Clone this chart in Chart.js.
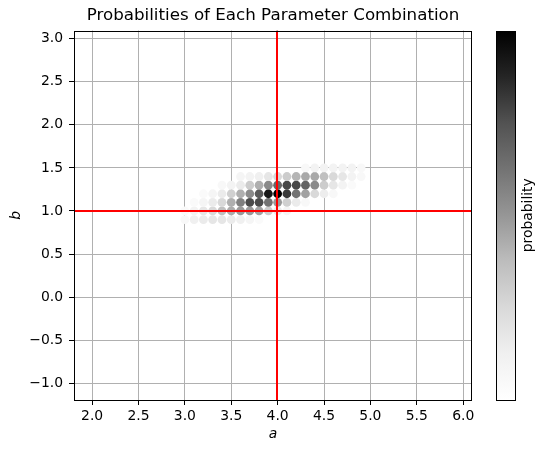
<!DOCTYPE html>
<html>
<head>
<meta charset="utf-8">
<script src="https://cdn.jsdelivr.net/npm/chart.js@4"></script>
<style>
  html, body { margin: 0; padding: 0; background: #fff; }
</style>
</head>
<body>
<canvas id="chart" width="543" height="453"></canvas>
<script>
// parameter grid (only the region with visible probability)
const aValues = [3.0, 3.1, 3.2, 3.3, 3.4, 3.5, 3.6, 3.7, 3.8, 3.9,
                 4.0, 4.1, 4.2, 4.3, 4.4, 4.5, 4.6, 4.7, 4.8, 4.9];
const bValues = [0.9, 1.0, 1.1, 1.2, 1.3, 1.4, 1.5];

// relative probability per b row, one entry per a value
const probB09 = [0.06, 0.125, 0.15, 0.18, 0.18, 0.15, 0.125, 0.08, 0.04, 0, 0, 0, 0, 0, 0, 0, 0, 0, 0, 0];
const probB10 = [0.04, 0.10, 0.18, 0.25, 0.36, 0.43, 0.49, 0.49, 0.46, 0.31, 0.15, 0.08, 0, 0, 0, 0, 0, 0, 0, 0];
const probB11 = [0, 0.04, 0.08, 0.15, 0.25, 0.42, 0.58, 0.77, 0.77, 0.625, 0.49, 0.29, 0.15, 0.06, 0, 0, 0, 0, 0, 0];
const probB12 = [0, 0, 0.04, 0.08, 0.15, 0.29, 0.42, 0.54, 0.72, 0.92, 1.0, 0.82, 0.625, 0.46, 0.25, 0.14, 0.06, 0, 0, 0];
const probB13 = [0, 0, 0, 0, 0.06, 0.10, 0.15, 0.31, 0.42, 0.54, 0.67, 0.78, 0.78, 0.68, 0.54, 0.31, 0.18, 0.10, 0.04, 0];
const probB14 = [0, 0, 0, 0, 0, 0, 0.08, 0.10, 0.125, 0.18, 0.25, 0.31, 0.40, 0.44, 0.44, 0.36, 0.25, 0.18, 0.10, 0.06];
const probB15 = [0, 0, 0, 0, 0, 0, 0, 0, 0, 0, 0, 0, 0, 0.06, 0.10, 0.10, 0.10, 0.10, 0.10, 0.06];
const probRows = [probB09, probB10, probB11, probB12, probB13, probB14, probB15];

const trueA = 4.0;
const trueB = 1.0;

const xTicks = [2.0, 2.5, 3.0, 3.5, 4.0, 4.5, 5.0, 5.5, 6.0];
const yTicks = [-1.0, -0.5, 0.0, 0.5, 1.0, 1.5, 2.0, 2.5, 3.0];
const xLimits = [1.805, 6.095];
const yLimits = [-1.195, 3.095];

// matplotlib "Greys" colormap
const greys = [255, 240, 217, 189, 150, 115, 82, 37, 0];
function greyColor(v) {
  const t = Math.max(0, Math.min(1, v)) * 8;
  const i = Math.min(7, Math.floor(t));
  const g = Math.round(greys[i] + (greys[i + 1] - greys[i]) * (t - i));
  return `rgb(${g},${g},${g})`;
}

const points = [];
const colors = [];
probRows.forEach((row, r) => {
  row.forEach((p, c) => {
    if (p <= 0) return;
    points.push({ x: aValues[c], y: bValues[r] });
    colors.push(greyColor(p));
  });
});

const FONT = 'DejaVu Sans';
const fmt = v => (v < 0 ? '\u2212' : '') + Math.abs(v).toFixed(1);

const overlay = {
  id: 'overlay',
  afterDraw(chart) {
    const { ctx, chartArea: ca, scales: { x, y } } = chart;

    // true parameter lines
    ctx.save();
    ctx.beginPath();
    ctx.rect(ca.left, ca.top, ca.right - ca.left, ca.bottom - ca.top);
    ctx.clip();
    ctx.strokeStyle = '#ff0000';
    ctx.lineWidth = 2;
    const px = Math.floor(x.getPixelForValue(trueA));
    const py = Math.round(y.getPixelForValue(trueB));
    ctx.beginPath();
    ctx.moveTo(px, ca.top);
    ctx.lineTo(px, ca.bottom);
    ctx.moveTo(ca.left, py);
    ctx.lineTo(ca.right, py);
    ctx.stroke();
    ctx.restore();

    // axes frame
    ctx.save();
    ctx.strokeStyle = '#000';
    ctx.lineWidth = 1;
    const l = Math.round(ca.left) + 0.5, t = Math.round(ca.top) + 0.5;
    const r = Math.round(ca.right) - 0.5, b = Math.round(ca.bottom) + 0.5;
    ctx.strokeRect(l, t, r - l, b - t);

    // colorbar
    const cbL = Math.round(ca.right) + 24, cbW = 19;
    const grad = ctx.createLinearGradient(0, ca.bottom, 0, ca.top);
    greys.forEach((g, i) => grad.addColorStop(i / 8, `rgb(${g},${g},${g})`));
    ctx.fillStyle = grad;
    ctx.fillRect(cbL, t, cbW, b - t);
    ctx.strokeRect(cbL + 0.5, t, cbW, b - t);

    ctx.translate(cbL + cbW + 13, (ca.top + ca.bottom) / 2);
    ctx.rotate(-Math.PI / 2);
    ctx.fillStyle = '#000';
    ctx.font = `13.9px "${FONT}"`;
    ctx.textAlign = 'center';
    ctx.textBaseline = 'middle';
    ctx.fillText('probability', 0, 0);
    ctx.restore();
  }
};

const axisCommon = {
  type: 'linear',
  z: 1,
  border: { display: false },
  grid: { color: '#b0b0b0', lineWidth: 1, tickColor: '#000', tickLength: 5, tickWidth: 1 },
  ticks: { font: { family: FONT, size: 13.9 }, color: '#000', callback: fmt, autoSkip: false, maxRotation: 0 }
};

new Chart(document.getElementById('chart'), {
  type: 'scatter',
  data: {
    datasets: [{
      data: points,
      pointBackgroundColor: colors,
      pointBorderWidth: 0,
      borderWidth: 0,
      pointRadius: 4.4,
      pointHoverRadius: 4.4
    }]
  },
  options: {
    responsive: false,
    devicePixelRatio: 1,
    animation: false,
    events: [],
    layout: { padding: { left: 0, right: 71, top: 0, bottom: 0 } },
    plugins: {
      legend: { display: false },
      tooltip: { enabled: false },
      title: {
        display: true,
        fullSize: false,
        text: 'Probabilities of Each Parameter Combination',
        color: '#000',
        font: { family: FONT, size: 16.7, weight: 'normal' },
        padding: { top: 6, bottom: 4.5 }
      }
    },
    scales: {
      x: {
        ...axisCommon,
        min: xLimits[0],
        max: xLimits[1],
        afterBuildTicks: s => { s.ticks = xTicks.map(v => ({ value: v })); },
        afterFit: s => { s.height = 53; },
        ticks: { ...axisCommon.ticks, padding: 3 },
        title: {
          display: true, text: 'a', color: '#000',
          font: { family: FONT, size: 13.9, style: 'italic' },
          padding: { top: 0, bottom: 10.5 }
        }
      },
      y: {
        ...axisCommon,
        min: yLimits[0],
        max: yLimits[1],
        afterBuildTicks: s => { s.ticks = yTicks.map(v => ({ value: v })); },
        afterFit: s => { s.width = 74; },
        ticks: { ...axisCommon.ticks, padding: 6 },
        title: {
          display: true, text: 'b', color: '#000',
          font: { family: FONT, size: 13.9, style: 'italic' },
          padding: { top: 8, bottom: 0 }
        }
      }
    }
  },
  plugins: [overlay]
});
</script>
</body>
</html>
